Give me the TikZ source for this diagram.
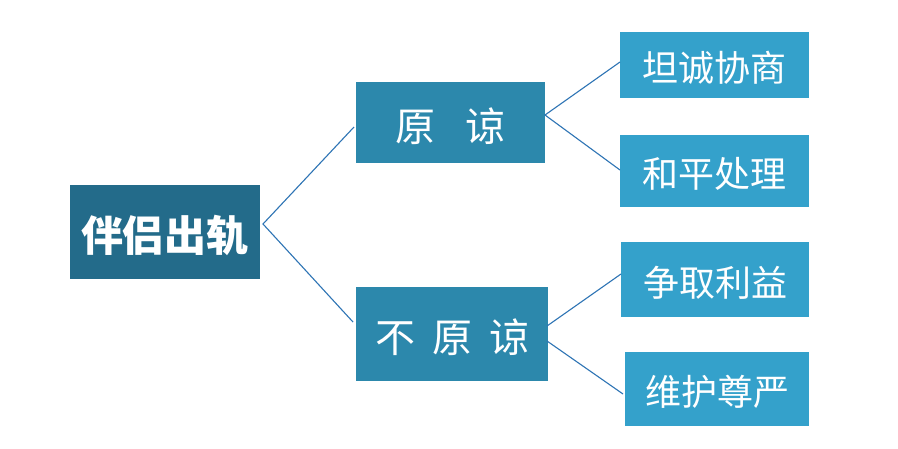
\documentclass[tikz,border=0pt]{standalone}
\usepackage{fontspec}
\newfontfamily\cjk{Noto Sans CJK SC}
\tikzset{
  box/.style={rectangle, inner sep=0pt, outer sep=0pt, text=white, font=\cjk, text depth=0pt},
  rootbox/.style={box, fill=rootc, text height=39pt, font=\cjk\bfseries\fontsize{42pt}{46pt}\selectfont},
  midbox/.style={box, fill=midc, text height=37.6pt, font=\cjk\fontsize{40pt}{44pt}\selectfont},
  leafbox/.style={box, fill=leafc, text height=33.6pt, font=\cjk\fontsize{36pt}{40pt}\selectfont},
  link/.style={draw=linec, line width=1.1pt}
}
\definecolor{rootc}{HTML}{236B8A}
\definecolor{midc}{HTML}{2C88AC}
\definecolor{leafc}{HTML}{34A1CB}
\definecolor{linec}{HTML}{2E74B5}
\begin{document}
\begin{tikzpicture}[x=1pt,y=-1pt]
\useasboundingbox[fill=white] (0,0) rectangle (898,448);
\node[rootbox, minimum width=190pt, minimum height=94pt] (root) at (165,232) {伴侣出轨};
\node[midbox, minimum width=189pt, minimum height=81pt] (A) at (450.5,122.5) {原\hspace{30pt}谅};
\node[midbox, minimum width=192pt, minimum height=94pt] (B) at (452,334) {不\hspace{17pt}原\hspace{17pt}谅};
\node[leafbox, minimum width=189pt, minimum height=66pt] (a1) at (714.5,65) {坦诚协商};
\node[leafbox, minimum width=189pt, minimum height=72pt] (a2) at (714.5,171) {和平处理};
\node[leafbox, minimum width=188pt, minimum height=75pt] (b1) at (715,279.5) {争取利益};
\node[leafbox, minimum width=184pt, minimum height=74pt] (b2) at (717,389) {维护尊严};
\draw[link] ([shift={(-2,4.5)}]A.west) -- ([shift={(3,-8)}]root.east) -- ([shift={(-3,-12)}]B.west);
\draw[link] ([shift={(0,-3)}]a1.west) -- ([shift={(0,-7.5)}]A.east) -- ([shift={(0,-1)}]a2.west);
\draw[link] ([shift={(-1,-8)}]B.east) -- ([shift={(0,-5.5)}]b1.west);
\draw[link] ([shift={(-1,7)}]B.east) -- ([shift={(-2,5)}]b2.west);
\end{tikzpicture}
\end{document}
